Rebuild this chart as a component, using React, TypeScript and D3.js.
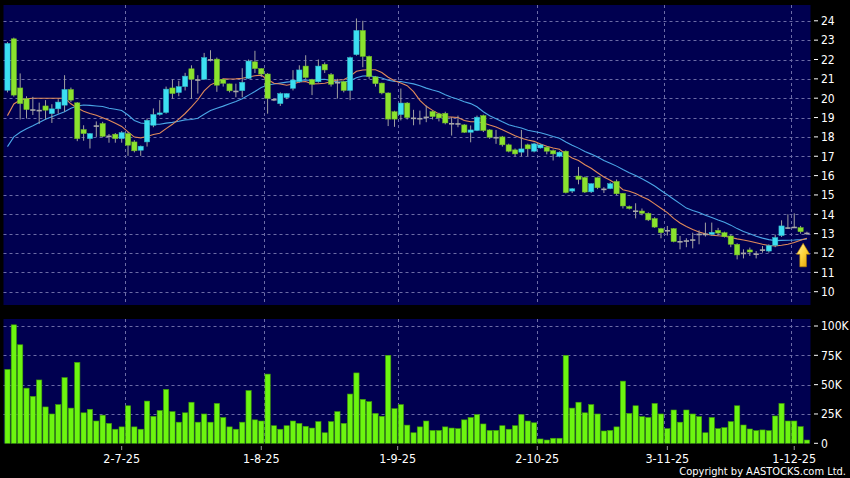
import React from 'react';
import * as d3 from 'd3';

const opens = [20.41,23.07,20.53,19.97,19.43,19.40,19.60,19.20,19.45,19.64,20.45,19.76,18.38,17.91,18.60,18.69,18.07,18.14,17.91,18.17,17.74,17.31,17.74,18.60,19.16,19.26,20.53,20.29,20.60,21.52,20.98,20.98,22.02,22.02,20.98,20.74,20.39,20.39,21.02,21.88,21.53,21.25,19.96,19.72,20.03,20.51,20.85,21.66,20.96,20.85,21.75,21.22,20.84,20.85,20.40,22.25,23.50,22.16,21.10,20.78,20.27,19.30,19.15,19.75,19.00,18.98,19.05,19.31,19.19,19.22,18.72,18.71,18.62,18.24,18.33,19.10,18.36,18.00,18.00,17.59,17.33,17.21,17.59,17.26,17.43,17.47,17.29,17.00,17.26,15.20,15.98,15.90,15.16,15.89,15.33,15.33,15.70,15.08,14.40,14.20,14.17,14.05,13.78,13.26,13.19,13.26,12.62,12.66,12.71,13.00,13.00,12.97,13.17,13.05,12.88,12.45,12.02,12.16,11.98,12.19,12.10,12.40,12.90,13.33,13.36,13.31,13.05];
const highs = [22.90,23.13,21.28,20.10,20.07,19.77,19.90,19.69,19.95,21.19,20.55,19.80,18.60,18.20,18.80,18.78,18.15,18.20,18.30,18.25,17.83,17.55,18.95,19.47,19.90,20.60,20.97,20.90,21.31,21.70,21.19,22.34,22.48,22.10,21.00,20.75,20.75,21.55,22.00,22.45,21.55,21.30,20.00,20.30,20.25,21.45,21.70,22.22,21.00,22.00,21.85,21.30,21.00,20.90,22.15,24.12,24.00,22.20,21.15,20.80,20.30,19.35,20.50,19.80,19.40,19.36,19.62,19.35,19.25,19.30,19.02,19.10,18.66,18.59,19.10,19.15,18.40,18.36,18.05,17.65,17.40,18.36,17.65,17.70,17.65,17.50,17.35,17.25,17.30,15.35,16.45,15.95,15.60,15.90,15.40,15.65,15.80,15.10,14.45,14.57,14.30,14.10,13.85,13.30,13.40,13.28,12.88,12.76,13.05,13.17,13.57,13.57,13.30,13.10,12.95,12.50,12.19,12.28,12.10,12.36,12.45,12.95,13.69,14.00,14.05,13.40,13.10];
const lows = [20.30,20.08,18.90,18.95,19.13,18.67,18.90,18.72,19.20,19.30,19.80,17.78,17.80,17.40,18.00,17.98,17.70,17.70,17.70,17.02,17.20,17.02,17.50,18.50,19.10,19.20,19.98,20.10,20.40,19.98,20.24,20.98,21.90,20.33,20.60,20.30,20.05,20.05,21.00,21.30,21.10,19.20,19.85,19.60,19.95,20.40,20.80,21.00,20.16,20.80,21.30,20.60,19.98,20.30,19.90,22.20,21.60,21.00,20.60,20.20,18.56,18.52,18.85,18.90,18.60,18.64,18.76,18.90,18.80,18.65,18.07,18.50,18.20,17.72,18.30,18.25,17.90,17.64,17.50,17.20,16.98,17.00,17.00,17.20,17.40,17.10,16.78,16.95,15.08,15.10,15.55,15.10,15.10,15.30,15.10,15.30,15.00,14.30,14.25,13.79,13.95,13.65,13.30,12.76,12.90,12.55,12.19,12.30,12.24,12.45,12.85,12.90,12.90,12.80,12.30,11.67,11.72,11.85,11.72,12.02,12.02,12.30,12.83,13.25,13.30,13.00,12.95];
const closes = [22.83,20.16,19.72,19.41,19.43,19.40,19.38,19.45,19.80,20.45,19.90,17.91,18.17,18.17,18.60,18.03,18.07,17.91,18.22,17.57,17.28,17.52,18.86,19.16,19.24,20.47,20.24,20.60,21.14,20.98,20.98,22.10,22.02,20.67,20.77,20.38,20.39,20.82,21.92,21.53,21.25,19.99,19.96,20.24,20.24,20.94,21.46,21.07,20.72,21.66,21.46,20.72,20.84,20.40,22.10,23.50,22.16,21.12,20.75,20.27,18.92,18.92,19.75,19.00,19.00,18.98,19.05,19.05,18.98,18.72,18.72,18.71,18.24,18.36,19.02,18.33,17.98,18.00,17.59,17.26,17.12,17.38,17.38,17.64,17.59,17.26,17.12,17.21,15.12,15.32,15.80,15.15,15.58,15.37,15.33,15.58,15.06,14.43,14.30,14.20,14.05,13.71,13.34,13.05,13.19,12.59,12.62,12.66,12.71,13.00,13.00,13.07,13.03,12.84,12.45,11.90,12.02,12.05,11.98,12.19,12.38,12.80,13.40,13.33,13.36,13.10,13.05];
// volume in thousands
const volumes = [63,101,84,47,40,54,31,25,33,56,30,69,26,29,19,24,17,12,14,32,14,12,36,23,28,46,27,18,26,35,18,25,18,34,22,14,12,18,45,20,19,59,15,12,15,19,17,14.5,13,18.5,9,18.5,27,17,42,60,37.5,35.5,25.5,23,75,29.5,33,15.5,9,14,19,11,11,14,13,12.5,20,22,24.5,16.5,11,11,15,12,15,24.5,19,17.5,3.7,2.8,4.3,4.3,75,30,35,26,33,25,10.5,11,14,53,25.5,32,22.7,22,34,25,12.5,28.4,18,28.4,25,22.7,9,22,12.5,13.4,18.5,32,15.6,12.2,10.8,11.4,10.8,23.3,34,19,19,14.2,2.8];
const ma10 = [19.1,19.7,19.9,19.97,20.0,20.0,20.0,20.0,20.0,20.00,19.71,19.49,19.33,19.21,19.12,18.99,18.86,18.70,18.54,18.26,17.99,17.95,18.02,18.12,18.19,18.43,18.65,18.92,19.21,19.55,19.92,20.38,20.69,20.84,21.00,20.99,21.00,21.03,21.10,21.16,21.19,20.97,20.77,20.73,20.67,20.73,20.84,20.86,20.74,20.75,20.77,20.85,20.94,20.95,21.14,21.39,21.46,21.47,21.47,21.33,21.08,20.90,20.79,20.65,20.34,19.89,19.58,19.37,19.19,19.04,19.02,19.00,18.85,18.78,18.78,18.72,18.61,18.51,18.37,18.22,18.06,17.93,17.84,17.77,17.63,17.52,17.43,17.36,17.11,16.91,16.78,16.56,16.38,16.15,15.93,15.76,15.55,15.27,15.19,15.08,14.91,14.76,14.54,14.31,14.09,13.79,13.55,13.37,13.21,13.09,12.99,12.92,12.89,12.87,12.80,12.73,12.67,12.61,12.53,12.45,12.39,12.36,12.40,12.45,12.54,12.66,12.76];
const ma20 = [17.5,18.0,18.24,18.42,18.58,18.75,18.91,19.04,19.17,19.3,19.48,19.6,19.65,19.63,19.6,19.57,19.48,19.43,19.36,19.13,18.85,18.72,18.68,18.66,18.65,18.71,18.75,18.81,18.88,18.90,18.96,19.17,19.36,19.48,19.59,19.71,19.83,19.97,20.16,20.35,20.55,20.68,20.73,20.78,20.83,20.86,20.92,20.94,20.92,20.96,20.98,20.91,20.85,20.84,20.90,21.06,21.15,21.16,21.11,21.04,20.93,20.87,20.86,20.80,20.74,20.64,20.52,20.42,20.33,20.18,20.05,19.95,19.82,19.72,19.56,19.30,19.09,18.94,18.78,18.63,18.54,18.46,18.34,18.28,18.21,18.12,18.02,17.93,17.74,17.57,17.42,17.24,17.11,16.96,16.78,16.64,16.49,16.31,16.15,16.00,15.84,15.66,15.46,15.23,15.01,14.78,14.55,14.32,14.20,14.09,13.95,13.84,13.71,13.59,13.44,13.26,13.11,12.99,12.87,12.77,12.69,12.64,12.65,12.66,12.67,12.69,12.72];

const priceTicks = [10,11,12,13,14,15,16,17,18,19,20,21,22,23,24];
const volTicks = [0,25,50,75,100];
const volTickLabels = ['0','25K','50K','75K','100K'];
const dateLabels = ['2-7-25','1-8-25','1-9-25','2-10-25','3-11-25','1-12-25'];
const dateLabelIdx = [18,40,61.5,83.5,104,124];
const dateGridIdx = [18.5,40.5,61.5,83.5,103.5,123.5];

const UP = '#3cdff2';
const DOWN = '#8ae22e';
const FLAT = '#a8a8a8';
const WICK = '#a0a0a0';
const NAVY = '#000050';
const GRID = '#6c6ca6';
const FONT = '"DejaVu Sans Condensed", "DejaVu Sans", sans-serif';

export default function App() {
  const n = closes.length;
  const left = 4.3, right = 810.1;
  const xc = d3.scaleLinear().domain([-0.5, n - 0.5]).range([left, right]);
  const step = (right - left) / n;
  const bw = step * 0.83;
  const yP = d3.scaleLinear().domain([10, 24]).range([291.7, 20.8]);
  const yV = d3.scaleLinear().domain([0, 100]).range([443.3, 326]);

  const pTop = 5, pBot = 305, vTop = 319, vBot = 443.5;
  const panelL = 3.5, panelR = 810.5;

  const line = d3.line<number>().x((_, i) => xc(i)).y(d => yP(d));

  const last = n - 1;
  const ax = xc(last) - 3.8;
  const ay = yP(closes[last]) + 10.6;
  const arrow = `M${ax},${ay} L${ax + 6.6},${ay + 11} L${ax + 3.3},${ay + 11} L${ax + 3.3},${ay + 23.5} L${ax - 3.3},${ay + 23.5} L${ax - 3.3},${ay + 11} L${ax - 6.6},${ay + 11} Z`;

  return (
    <svg width={850} height={478} style={{ position: 'fixed', left: 0, top: 0, background: '#000' }}
      xmlns="http://www.w3.org/2000/svg">
      <defs>
        <linearGradient id="arr" x1="0" y1="0" x2="1" y2="1">
          <stop offset="0" stopColor="#fff2a0" />
          <stop offset="0.5" stopColor="#ffd23a" />
          <stop offset="1" stopColor="#e09a00" />
        </linearGradient>
      </defs>
      <rect x={0} y={0} width={850} height={478} fill="#000" />
      <rect x={panelL} y={pTop} width={panelR - panelL} height={pBot - pTop} fill={NAVY} />
      <rect x={panelL} y={vTop} width={panelR - panelL} height={vBot - vTop} fill={NAVY} />

      {/* price grid */}
      {priceTicks.map(t => (
        <line key={'pg' + t} x1={panelL} x2={panelR} y1={Math.round(yP(t)) + 0.5} y2={Math.round(yP(t)) + 0.5}
          stroke={GRID} strokeDasharray="3 3" strokeWidth={1} />
      ))}
      {volTicks.filter(t => t > 0).map(t => (
        <line key={'vg' + t} x1={panelL} x2={panelR} y1={Math.round(yV(t)) + 0.5} y2={Math.round(yV(t)) + 0.5}
          stroke={GRID} strokeDasharray="3 3" strokeWidth={1} />
      ))}
      {dateGridIdx.map((g, k) => (
        <g key={'dg' + k}>
          <line x1={Math.round(xc(g)) + 0.5} x2={Math.round(xc(g)) + 0.5} y1={pTop} y2={pBot}
            stroke={GRID} strokeDasharray="3 3" />
          <line x1={Math.round(xc(g)) + 0.5} x2={Math.round(xc(g)) + 0.5} y1={vTop} y2={vBot}
            stroke={GRID} strokeDasharray="3 3" />
        </g>
      ))}

      {/* moving averages */}
      <path d={line(ma20) || ''} fill="none" stroke="#4aa6e6" strokeWidth={1.1} />
      <path d={line(ma10) || ''} fill="none" stroke="#e08a5a" strokeWidth={1.1} />

      {/* candles */}
      {closes.map((c, i) => {
        const o = opens[i];
        const col = c > o ? UP : c < o ? DOWN : FLAT;
        const top = yP(Math.max(o, c));
        const bot = yP(Math.min(o, c));
        const cx = xc(i);
        return (
          <g key={'c' + i}>
            <line x1={cx} x2={cx} y1={yP(highs[i])} y2={yP(lows[i])} stroke={WICK} strokeWidth={1} />
            <rect x={cx - bw / 2} y={top} width={bw} height={Math.max(bot - top, 1.6)} fill={col}
              stroke={c === o ? 'none' : d3.color(col)!.darker(0.6).formatHex()} strokeWidth={0.5} />
          </g>
        );
      })}

      {/* volume bars */}
      {volumes.map((v, i) => (
        <rect key={'v' + i} x={xc(i) - bw / 2} y={yV(v)} width={bw} height={yV(0) - yV(v)}
          fill="#6cf510" stroke="#3f9a08" strokeWidth={0.6} />
      ))}

      {/* arrow */}
      <path d={arrow} fill="url(#arr)" stroke="#b88000" strokeWidth={0.6} />

      {/* right axis price */}
      {priceTicks.map(t => (
        <g key={'pt' + t}>
          <line x1={814} x2={818} y1={yP(t)} y2={yP(t)} stroke="#fff" strokeWidth={1} />
          <text x={821} y={yP(t)} dy="0.36em" fill="#fff" fontSize={12} fontFamily={FONT}>{t}</text>
        </g>
      ))}
      {volTicks.map((t, k) => (
        <g key={'vt' + t}>
          <line x1={814} x2={818} y1={yV(t)} y2={yV(t)} stroke="#fff" strokeWidth={1} />
          <text x={821} y={yV(t)} dy="0.36em" fill="#fff" fontSize={12} fontFamily={FONT}>{volTickLabels[k]}</text>
        </g>
      ))}

      {/* date labels */}
      {dateLabels.map((d, k) => (
        <g key={'dl' + k}>
          <line x1={xc(dateLabelIdx[k])} x2={xc(dateLabelIdx[k])} y1={446} y2={450} stroke="#999" />
          <text x={xc(dateLabelIdx[k])} y={462.5} textAnchor="middle" fill="#fff" fontSize={12.5} fontFamily={FONT}>{d}</text>
        </g>
      ))}

      <text x={846} y={474.5} textAnchor="end" fill="#fff" fontSize={11} fontFamily={FONT}>Copyright by AASTOCKS.com Ltd.</text>
    </svg>
  );
}
